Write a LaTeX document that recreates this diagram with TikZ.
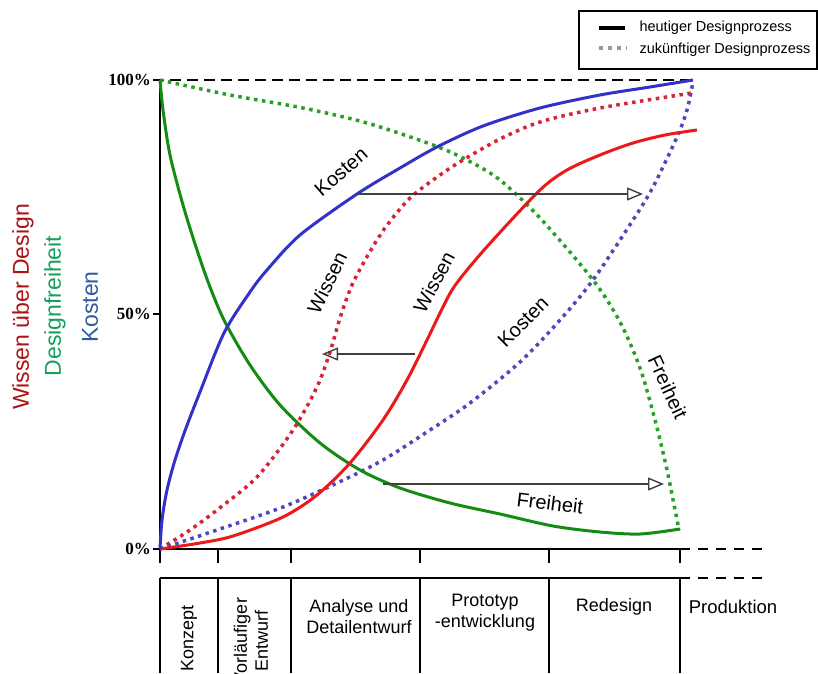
\documentclass[tikz,border=0pt]{standalone}
\usepackage{fontspec}
\setmainfont{Liberation Sans}
\newfontfamily\tickfont{Liberation Serif}
\usetikzlibrary{arrows.meta, positioning}
\definecolor{kostblue}{RGB}{50,50,200}
\definecolor{wissred}{RGB}{235,25,25}
\definecolor{freigreen}{RGB}{20,140,20}
\definecolor{kostdot}{RGB}{80,70,190}
\definecolor{wissdot}{RGB}{215,35,55}
\definecolor{freidot}{RGB}{40,160,40}
\definecolor{labred}{RGB}{170,20,20}
\definecolor{labgreen}{RGB}{20,160,90}
\definecolor{labblue}{RGB}{50,90,160}

\begin{document}
\begin{tikzpicture}[x=1pt, y=-1pt]
		\tikzstyle{curve} = [line width=3pt, line join=round]
		\tikzstyle{future} = [line width=3.5pt, dash pattern=on 3.5pt off 4.5pt]
		\tikzstyle{axis} = [line width=1.8pt, black]
		\tikzstyle{arrow} = [draw, line width=1.4pt, black!75, -{Triangle[open, length=16pt, width=13pt]}]
		\tikzstyle{phase} = [font=\fontsize{18}{21}\selectfont, align=center]
		\tikzstyle{curvelabel} = [font=\fontsize{20}{24}\selectfont]
		\tikzstyle{tick} = [font=\tickfont\bfseries\fontsize{17}{20}\selectfont, anchor=east, inner sep=1pt]
		\tikzstyle{axlabel} = [font=\fontsize{23}{27}\selectfont, rotate=90]
		\tikzstyle{legendtext} = [font=\fontsize{14.5}{17}\selectfont, anchor=west]

		\useasboundingbox (0,0) rectangle (818,673);

		% Achsen
		\draw[axis] (160,80) -- (160,556);
		\draw[axis, dash pattern=on 11pt off 6pt] (153,80) -- (693,80);
		\draw[axis] (153,314) -- (160,314);
		\draw[axis] (153,549) -- (680,549);
		\draw[axis, dash pattern=on 10pt off 8pt] (680,549) -- (762,549);
		\draw[axis] (160,578) -- (680,578);
		\draw[axis, dash pattern=on 10pt off 8pt] (680,578) -- (762,578);
		\foreach \x in {160,218,291,420,549,680} {
			\draw[axis] (\x,549) -- (\x,563);
			\draw[axis] (\x,578) -- (\x,673);
		}

		\node (p100) [tick] at (152,80) {100\%};
		\node (p50) [tick] at (152,314) {50\%};
		\node (p0) [tick] at (152,549) {0\%};

		\node (ylabWissen) [axlabel, text=labred] at (23,307) {Wissen über Design};
		\node (ylabFrei) [axlabel, text=labgreen] at (55,306) {Designfreiheit};
		\node (ylabKosten) [axlabel, text=labblue] at (90,307) {Kosten};

		% zukünftiger Designprozess
		\draw[future, freidot] plot[smooth, tension=0.5] coordinates {(160,80) (230,95) (303,108) (367,123) (433,145) (467,160) (500,180) (540,218) (593,280) (620,322) (640,368) (655,420) (667,470) (679,530)};
		\draw[future, wissdot] plot[smooth, tension=0.5] coordinates {(160,549) (190,530) (217,510) (257,477) (293,430) (317,387) (330,352) (340,318) (352,285) (368,255) (385,228) (410,198) (440,175) (463,160) (500,139) (540,122) (600,108) (692,93)};
		\draw[future, kostdot] plot[smooth, tension=0.5] coordinates {(160,549) (217,530) (283,507) (337,483) (383,460) (430,430) (470,403) (520,362) (560,320) (593,280) (633,220) (653,187) (677,137) (687,110) (693,82)};

		% heutiger Designprozess
		\draw[curve, freigreen] plot[smooth, tension=0.5] coordinates {(160,80) (163,110) (170,155) (183,205) (197,250) (210,287) (225,322) (250,365) (280,405) (320,443) (360,470) (400,488) (450,503) (500,514) (553,526) (600,532) (640,534) (680,529)};
		\draw[curve, wissred] plot[smooth, tension=0.5] coordinates {(160,549) (200,543) (233,536) (283,517) (317,495) (350,463) (383,420) (407,380) (427,340) (440,313) (452,290) (467,270) (493,240) (540,190) (567,170) (600,155) (633,143) (665,135) (697,130)};
		\draw[curve, kostblue] plot[smooth, tension=0.5] coordinates {(160,549) (162,520) (167,490) (175,460) (186,428) (200,392) (224,333) (250,292) (267,270) (300,235) (357,194) (400,168) (437,147) (483,126) (540,108) (600,95) (650,87) (693,80)};

		% Verschiebungen
		\coordinate (kostStart) at (357,194);
		\coordinate (kostEnd) at (643,194);
		\coordinate (wissStart) at (415,354);
		\coordinate (wissEnd) at (322,354);
		\coordinate (freiStart) at (383,484);
		\coordinate (freiEnd) at (664,484);
		\path [arrow] (kostStart) -- (kostEnd);
		\path [arrow] (wissStart) -- (wissEnd);
		\path [arrow] (freiStart) -- (freiEnd);

		\node (labKosten) [curvelabel, rotate=41] at (341,172) {Kosten};
		\node (labKostenNeu) [curvelabel, rotate=45] at (523,322) {Kosten};
		\node (labWissenNeu) [curvelabel, rotate=64] at (327,283) {Wissen};
		\node (labWissen) [curvelabel, rotate=62] at (434,282) {Wissen};
		\node (labFrei) [curvelabel, rotate=-7] at (550,503) {Freiheit};
		\node (labFreiNeu) [curvelabel, rotate=-65] at (668,387) {Freiheit};

		% Phasen
		\node (konzept) [phase, rotate=90] at (189,638) {Konzept};
		\node (entwurf) [phase, rotate=90] at (251,641) {Vorläufiger\\Entwurf};
		\node (analyse) [phase] at (359,617) {Analyse und\\Detailentwurf};
		\node (prototyp) [phase] at (485,613) {Prototyp\\-entwicklung};
		\node (redesign) [phase] at (614,607) {Redesign};
		\node (produktion) [phase, font=\fontsize{18.5}{21}\selectfont] at (733,607) {Produktion};

		% Legende
		\draw[line width=1.5pt] (579,11) rectangle (817,69);
		\coordinate (legA) at (599,28);
		\coordinate (legB) at (625,28);
		\coordinate (legC) at (599,48);
		\coordinate (legD) at (627,48);
		\draw[line width=4pt] (legA) -- (legB);
		\draw[line width=4pt, black!40, dash pattern=on 4pt off 5pt] (legC) -- (legD);
		\node (legHeute) [legendtext] at (636,28) {heutiger Designprozess};
		\node (legZukunft) [legendtext, below=4pt of legHeute.south west, anchor=north west, inner sep=0pt, xshift=3.3pt] {zukünftiger Designprozess};
	\end{tikzpicture}
\end{document}
